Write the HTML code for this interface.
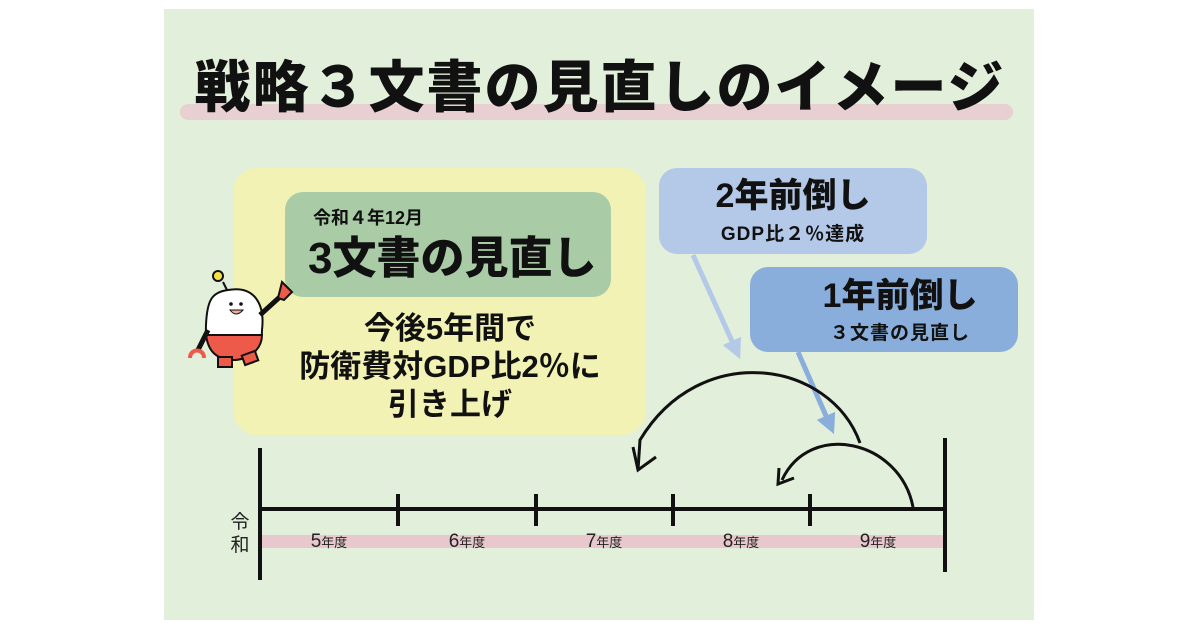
<!DOCTYPE html>
<html><head><meta charset="utf-8"><style>
body{margin:0;width:1200px;height:630px;background:#fff;position:relative;overflow:hidden;font-family:"Liberation Sans","Noto Sans CJK JP",sans-serif;}
.a{position:absolute}
.panel{left:164px;top:9px;width:870px;height:611px;background:#e2efda}
.t{font-weight:900;color:#111;white-space:nowrap}
</style></head><body>
<div class="a panel"></div>
<div class="a" style="left:180px;top:104px;width:833px;height:16px;background:#e8cfd2;border-radius:8px"></div>
<div class="a t" style="left:180px;top:55px;width:840px;text-align:center;font-size:56px;line-height:66px;letter-spacing:2px">戦略３文書の見直しのイメージ</div>

<div class="a" style="left:233px;top:168px;width:413px;height:267px;background:#f2f2b5;border-radius:24px"></div>
<div class="a" style="left:285px;top:192px;width:326px;height:105px;background:#a9cca7;border-radius:18px"></div>
<div class="a t" style="left:313px;top:204px;font-size:18px;font-weight:700">令和４年12月</div>
<div class="a t" style="left:308px;top:232px;font-size:44px;line-height:54px">3文書の見直し</div>
<div class="a t" style="left:250px;top:310px;width:400px;text-align:center;font-size:31px;line-height:38px;font-weight:700">今後5年間で<br>防衛費対GDP比2％に<br>引き上げ</div>

<div class="a" style="left:659px;top:168px;width:268px;height:86px;background:#b4c9e8;border-radius:18px"></div>
<div class="a t" style="left:659px;top:176px;width:268px;text-align:center;font-size:34px;line-height:40px">2年前倒し</div>
<div class="a t" style="left:659px;top:219px;width:268px;text-align:center;font-size:19px;font-weight:700;letter-spacing:1px">GDP比２％達成</div>
<div class="a" style="left:750px;top:267px;width:268px;height:85px;background:#8aaedc;border-radius:18px"></div>
<div class="a t" style="left:780px;top:276px;width:240px;text-align:center;font-size:34px;line-height:40px">1年前倒し</div>
<div class="a t" style="left:780px;top:318px;width:240px;text-align:center;font-size:19px;font-weight:700;letter-spacing:1px">３文書の見直し</div>

<svg class="a" style="left:0;top:0" width="1200" height="630">
<defs>
<marker id="m1" markerWidth="4" markerHeight="4" refX="2" refY="2" orient="auto"><path d="M0,0 L4,2 L0,4z" fill="#b4c9e8"/></marker>
<marker id="m2" markerWidth="4" markerHeight="4" refX="2" refY="2" orient="auto"><path d="M0,0 L4,2 L0,4z" fill="#8aaedc"/></marker>
</defs>
<line x1="693" y1="255" x2="736" y2="350" stroke="#b4c9e8" stroke-width="5" marker-end="url(#m1)"/>
<line x1="798" y1="352" x2="830" y2="425" stroke="#8aaedc" stroke-width="5" marker-end="url(#m2)"/>
<path d="M860,443 C830,360 700,340 640,440 L638,470" fill="none" stroke="#111" stroke-width="3"/>
<path d="M633,447 L638,470 L656,457" fill="none" stroke="#111" stroke-width="3"/>
<path d="M913,507 C900,440 810,420 782,480" fill="none" stroke="#111" stroke-width="3"/>
<path d="M779,468 L778,484 L794,478" fill="none" stroke="#111" stroke-width="3"/>
<rect x="262" y="535" width="683" height="13" fill="#e8c8cd"/>
<g stroke="#111" stroke-width="4">
<line x1="260" y1="448" x2="260" y2="580"/>
<line x1="945" y1="438" x2="945" y2="572"/>
<line x1="260" y1="509" x2="945" y2="509"/>
<line x1="398" y1="494" x2="398" y2="526"/>
<line x1="536" y1="494" x2="536" y2="526"/>
<line x1="673" y1="494" x2="673" y2="526"/>
<line x1="810" y1="494" x2="810" y2="526"/>
</g>
<g font-family="Liberation Sans,Noto Sans CJK JP,sans-serif" fill="#222" text-anchor="middle">
<text x="329" y="547"><tspan font-size="19">5</tspan><tspan font-size="13">年度</tspan></text>
<text x="467" y="547"><tspan font-size="19">6</tspan><tspan font-size="13">年度</tspan></text>
<text x="604" y="547"><tspan font-size="19">7</tspan><tspan font-size="13">年度</tspan></text>
<text x="741" y="547"><tspan font-size="19">8</tspan><tspan font-size="13">年度</tspan></text>
<text x="878" y="547"><tspan font-size="19">9</tspan><tspan font-size="13">年度</tspan></text>
<text x="240" y="528" font-size="19">令</text>
<text x="240" y="551" font-size="19">和</text>
</g>
<g stroke="#111" stroke-width="2">
<circle cx="218" cy="276" r="5" fill="#f5e24a"/>
<line x1="223" y1="282" x2="228" y2="292"/>
<path d="M228,290 C255,285 265,305 262,330 C262,345 255,358 235,360 C212,360 205,345 206,325 C207,300 212,292 228,290z" fill="#fff"/>
<path d="M206,335 C208,350 215,360 235,360 C255,358 262,345 262,335z" fill="#ee5a4a"/>
<rect x="218" y="357" width="14" height="10" fill="#ee5a4a"/>
<rect x="243" y="353" width="14" height="10" fill="#ee5a4a" transform="rotate(-20 250 358)"/>
<line x1="260" y1="315" x2="282" y2="295" stroke-width="5"/>
<path d="M278,298 L282,282 L286,286 L292,292 L284,300z" fill="#ee5a4a"/>
<line x1="208" y1="330" x2="198" y2="350" stroke-width="5"/>
<path d="M190,358 C190,348 204,348 204,358" fill="none" stroke="#ee5a4a" stroke-width="4"/>
</g>
<circle cx="231" cy="304" r="1.8" fill="#111"/><circle cx="241" cy="304" r="1.8" fill="#111"/>
<path d="M230,310 Q236,318 243,310z" fill="#f3a9a0" stroke="#111"/>
</svg>
</body></html>
